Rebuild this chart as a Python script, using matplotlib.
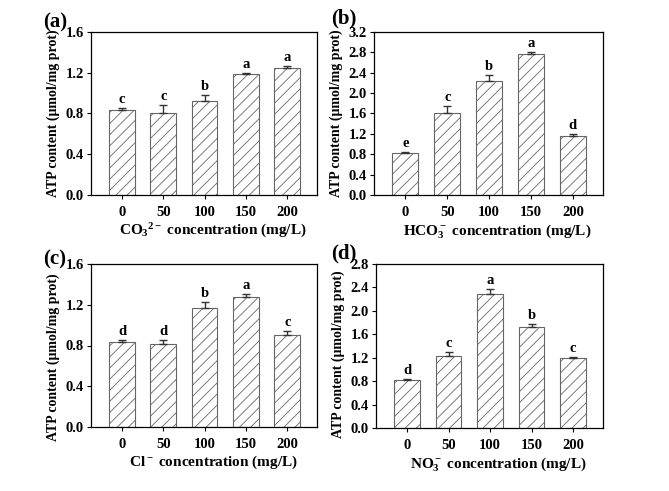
import matplotlib
matplotlib.use("Agg")
import matplotlib.pyplot as plt
import numpy as np

plt.rcParams['font.family'] = ['Liberation Serif', 'DejaVu Serif']
plt.rcParams['font.weight'] = 'bold'
plt.rcParams['mathtext.fontset'] = 'custom'
plt.rcParams['mathtext.rm'] = 'Liberation Serif:bold'
plt.rcParams['mathtext.it'] = 'Liberation Serif:bold'
plt.rcParams['mathtext.bf'] = 'Liberation Serif:bold'
plt.rcParams['hatch.color'] = '#555555'
plt.rcParams['hatch.linewidth'] = 0.6

categories = ['0', '50', '100', '150', '200']

vals_a = [0.83, 0.80, 0.92, 1.19, 1.25]
err_a = [0.02, 0.08, 0.06, 0.01, 0.02]
let_a = ['c', 'c', 'b', 'a', 'a']

vals_b = [0.83, 1.61, 2.24, 2.76, 1.16]
err_b = [0.02, 0.14, 0.12, 0.05, 0.04]
let_b = ['e', 'c', 'b', 'a', 'd']

vals_c = [0.83, 0.81, 1.17, 1.28, 0.90]
err_c = [0.02, 0.04, 0.06, 0.03, 0.04]
let_c = ['d', 'd', 'b', 'a', 'c']

vals_d = [0.82, 1.23, 2.29, 1.72, 1.20]
err_d = [0.02, 0.07, 0.09, 0.06, 0.01]
let_d = ['d', 'c', 'a', 'b', 'c']

panels = [
    dict(tag='(a)', vals=vals_a, err=err_a, let=let_a, ymax=1.6, step=0.4,
         xlabel=r'CO$_3$$^{2-}$ concentration (mg/L)', ylab_y=0.5,
         rect=[91/669, 1-195/491, 226/669, 163/491], tagpos=(43/669, 1-22/491)),
    dict(tag='(b)', vals=vals_b, err=err_b, let=let_b, ymax=3.2, step=0.4,
         xlabel=r'HCO$_3^-$ concentration (mg/L)', ylab_y=0.5,
         rect=[374/669, 1-195/491, 229/669, 163/491], tagpos=(331/669, 1-18/491)),
    dict(tag='(c)', vals=vals_c, err=err_c, let=let_c, ymax=1.6, step=0.4,
         xlabel=r'Cl$^-$ concentration (mg/L)', ylab_y=0.43,
         rect=[91/669, 1-427/491, 226/669, 163/491], tagpos=(43/669, 1-259/491)),
    dict(tag='(d)', vals=vals_d, err=err_d, let=let_d, ymax=2.8, step=0.4,
         xlabel=r'NO$_3^-$ concentration (mg/L)', ylab_y=0.45,
         rect=[376/669, 1-428/491, 227/669, 164/491], tagpos=(331/669, 1-253/491)),
]

fig = plt.figure(figsize=(6.69, 4.91), dpi=100)

for p in panels:
    ax = fig.add_axes(p['rect'])
    x = np.arange(len(categories))
    ax.bar(x, p['vals'], width=0.62, color='white', edgecolor='#666666',
           linewidth=0.8, hatch='///', zorder=2)
    ax.errorbar(x, p['vals'], yerr=[np.zeros(len(x)), p['err']], fmt='none',
                ecolor='#333333', elinewidth=1.0, capsize=3, capthick=1.0, zorder=3)
    off = p['ymax'] * 0.012
    for xi, v, e, l in zip(x, p['vals'], p['err'], p['let']):
        ax.text(xi, v + e + off, l, ha='center', va='bottom', fontsize=10.5,
                fontweight='bold')
    ax.set_xlim(-0.75, 4.72)
    ax.set_ylim(0, p['ymax'])
    ticks = np.arange(0, p['ymax'] + 1e-9, p['step'])
    ax.set_yticks(ticks)
    ax.set_yticklabels([f'{t:.1f}' for t in ticks])
    ax.set_xticks(x)
    ax.set_xticklabels(categories)
    ax.tick_params(axis='both', direction='out', length=3, width=0.8,
                   labelsize=10.5, pad=2)
    ax.tick_params(axis='x', pad=5)
    for lab in ax.get_xticklabels() + ax.get_yticklabels():
        lab.set_fontweight('bold')
    for s in ax.spines.values():
        s.set_linewidth(0.9)
    ax.set_ylabel('ATP content (μmol/mg prot)', fontsize=10, fontweight='bold')
    ax.yaxis.set_label_coords(-0.135, p['ylab_y'])
    ax.set_xlabel(p['xlabel'], fontsize=11, fontweight='bold')
    ax.xaxis.set_label_coords(0.54, -0.165)
    fig.text(p['tagpos'][0], p['tagpos'][1], p['tag'], fontsize=15,
             fontweight='bold', ha='left', va='center')

fig.savefig('out.png', dpi=100)
